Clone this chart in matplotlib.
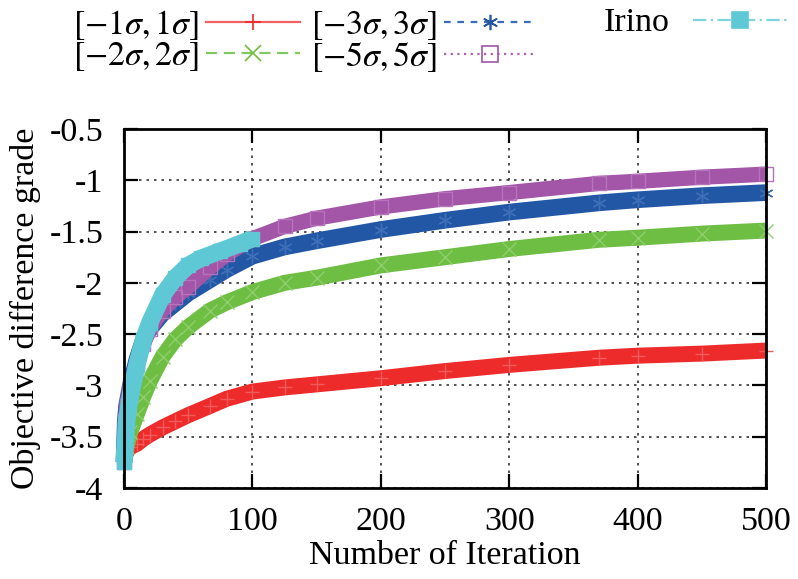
import numpy as np
import matplotlib
matplotlib.use('Agg')
import matplotlib.pyplot as plt
from matplotlib.lines import Line2D

plt.rcParams['font.family'] = ['Liberation Serif', 'DejaVu Serif']
plt.rcParams['mathtext.fontset'] = 'stix'
plt.rcParams['axes.unicode_minus'] = False

# values
iters = [0, 1, 2, 5, 10, 15, 20, 30, 40, 50, 67, 80, 100, 125, 150, 200, 250, 300, 370, 400, 450, 500]
sig1 = [-3.75, -3.68, -3.64, -3.60, -3.57, -3.52, -3.48, -3.41, -3.35, -3.29, -3.20, -3.13, -3.06,
        -3.02, -2.99, -2.93, -2.86, -2.80, -2.73, -2.71, -2.69, -2.66]
sig2 = [-3.75, -3.68, -3.60, -3.45, -3.28, -3.11, -2.96, -2.72, -2.55, -2.43, -2.27, -2.19, -2.09,
        -2.00, -1.95, -1.83, -1.75, -1.67, -1.58, -1.56, -1.52, -1.49]
sig3 = [-3.75, -3.35, -3.20, -3.00, -2.75, -2.56, -2.45, -2.30, -2.20, -2.10, -1.97, -1.87, -1.74,
        -1.65, -1.59, -1.48, -1.39, -1.31, -1.22, -1.19, -1.15, -1.12]
sig5 = [-3.75, -3.35, -3.20, -3.00, -2.78, -2.60, -2.45, -2.27, -2.14, -2.04, -1.85, -1.72, -1.57,
        -1.45, -1.37, -1.26, -1.18, -1.12, -1.03, -1.01, -0.97, -0.94]
irino_iters = [0, 1, 2, 5, 10, 15, 20, 30, 40, 50, 60, 75, 90, 100]
irino = [-3.75, -3.55, -3.35, -3.10, -2.80, -2.56, -2.39, -2.12, -1.95, -1.83, -1.76, -1.69, -1.62, -1.57]

labels = [r'$[-1\sigma, 1\sigma]$', r'$[-2\sigma, 2\sigma]$', r'$[-3\sigma, 3\sigma]$',
          r'$[-5\sigma, 5\sigma]$', 'Irino']
colors = ['#ee2b2b', '#6fbe44', '#2257a6', '#a355a8', '#5ec8d4']
light = ['#f35a5a', '#8fce6c', '#3d6eb8', '#b673ba', '#5ec8d4']
legcol = ['#f06060', '#80c860', '#3a6cb8', '#b060b0', '#7fd4de']
markers = ['+', 'x', (6, 2, 0), 's', 's']
styles = ['-', (0, (5, 3)), (0, (3, 3)), (0, (1, 2)), (0, (6, 2, 1, 2))]
band = [11.5, 11.5, 12, 11, 12.5]
FS = 24.5

fig = plt.figure(figsize=(7.98, 5.79), dpi=100)
ax = fig.add_axes([0.1554, 0.1572, 0.8046, 0.62])

series = [(iters, sig1), (iters, sig2), (iters, sig3), (iters, sig5), (irino_iters, irino)]
for i, (xs, ys) in enumerate(series):
    ax.plot(xs, ys, color=colors[i], lw=band[i], solid_capstyle='butt',
            solid_joinstyle='round', clip_on=False, zorder=3 + i)
    ax.plot(xs, ys, ls='none', marker=markers[i], ms=10, mew=1.0, color=light[i],
            mfc=colors[i] if i == 4 else 'none', clip_on=False, zorder=3 + i)

ax.set_xlim(0, 500)
ax.set_ylim(-4, -0.5)
ax.set_xticks(np.arange(0, 501, 100))
ax.set_yticks(np.arange(-4, -0.49, 0.5))
ax.set_yticklabels(['-4', '-3.5', '-3', '-2.5', '-2', '-1.5', '-1', '-0.5'])
ax.grid(True, color='#333333', ls=(0, (1.5, 3)), lw=1.2, zorder=1)
ax.tick_params(direction='in', length=10, width=1.6, top=True, right=True, labelsize=FS)
ax.tick_params(axis='y', pad=15)
ax.tick_params(axis='x', pad=13)
for s in ax.spines.values():
    s.set_linewidth(2)
    s.set_zorder(10)
ax.set_xlabel('Number of Iteration', fontsize=FS, labelpad=3)
ax.set_ylabel('Objective difference grade', fontsize=FS, labelpad=6)

handles = []
for i in range(5):
    handles.append(Line2D([], [], color=legcol[i], ls=styles[i], lw=1.6,
                          marker=markers[i], ms=11, mew=1.2, mec=colors[i],
                          mfc=colors[i] if i == 4 else 'none'))

leg1 = fig.legend(handles[:4], labels[:4], loc='upper left', bbox_to_anchor=(0.066, 1.022),
                  ncol=2, markerfirst=False, frameon=False, fontsize=FS, handlelength=2.75,
                  handletextpad=0.2, columnspacing=0.32, labelspacing=-0.05, borderpad=0.1)
leg2 = fig.legend(handles[4:], labels[4:], loc='upper left', bbox_to_anchor=(0.731, 1.022),
                  markerfirst=False, frameon=False, fontsize=FS, handlelength=2.75,
                  handletextpad=0.7, borderpad=0.1)

fig.savefig('out.png', dpi=100)
